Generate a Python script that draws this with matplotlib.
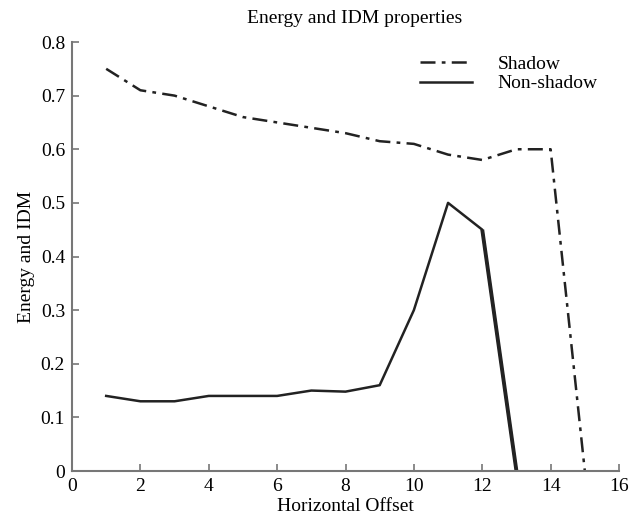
import matplotlib
matplotlib.use('Agg')
import matplotlib.pyplot as plt

offset = [1, 2, 3, 4, 5, 6, 7, 8, 9, 10, 11, 12, 13, 14, 15]
shadow = [0.75, 0.71, 0.70, 0.68, 0.66, 0.65, 0.64, 0.63, 0.615, 0.61, 0.59, 0.58, 0.60, 0.60, 0.0]
offset_ns = [1, 2, 3, 4, 5, 6, 7, 8, 9, 10, 11, 12, 13]
nonshadow = [0.14, 0.13, 0.13, 0.14, 0.14, 0.14, 0.15, 0.148, 0.16, 0.30, 0.50, 0.45, 0.0]

plt.rcParams['font.family'] = ['Liberation Serif', 'DejaVu Serif']

fig = plt.figure(figsize=(6.36, 5.19), dpi=100)
ax = fig.add_axes([72 / 636, 1 - 471 / 519, 547 / 636, 429 / 519])

ax.plot(offset, shadow, color='#222222', lw=1.8, ls=(0, (6, 2.5, 1.5, 2.5)), label='Shadow')
ax.plot(offset_ns, nonshadow, color='#222222', lw=1.8, label='Non-shadow')
# the last segment of the non-shadow curve is drawn heavier in the original
ax.plot(offset_ns[-2:], nonshadow[-2:], color='#222222', lw=2.8, solid_capstyle='butt')

ax.set_xlim(0, 16)
ax.set_ylim(0, 0.8)
ax.set_xticks(range(0, 17, 2))
ax.set_yticks([0, 0.1, 0.2, 0.3, 0.4, 0.5, 0.6, 0.7, 0.8])
ax.set_yticklabels(['0', '0.1', '0.2', '0.3', '0.4', '0.5', '0.6', '0.7', '0.8'])

for s in ['top', 'right']:
    ax.spines[s].set_visible(False)
for s in ['left', 'bottom']:
    ax.spines[s].set_color('#777777')
    ax.spines[s].set_linewidth(1.5)
ax.tick_params(direction='in', length=5, width=1.2, color='#777777', labelsize=14, pad=5)

ax.set_title('Energy and IDM properties', fontsize=14, pad=14, x=0.516)
ax.set_xlabel('Horizontal Offset', fontsize=14, labelpad=2)
ax.set_ylabel('Energy and IDM', fontsize=14, labelpad=4)

handles, labels = ax.get_legend_handles_labels()
ax.legend(handles[:2], labels[:2], loc='upper right', bbox_to_anchor=(0.993, 1.01), frameon=False,
          fontsize=14, handlelength=2.7, labelspacing=0.1, handletextpad=1.3)

fig.savefig('out.png', dpi=100)
